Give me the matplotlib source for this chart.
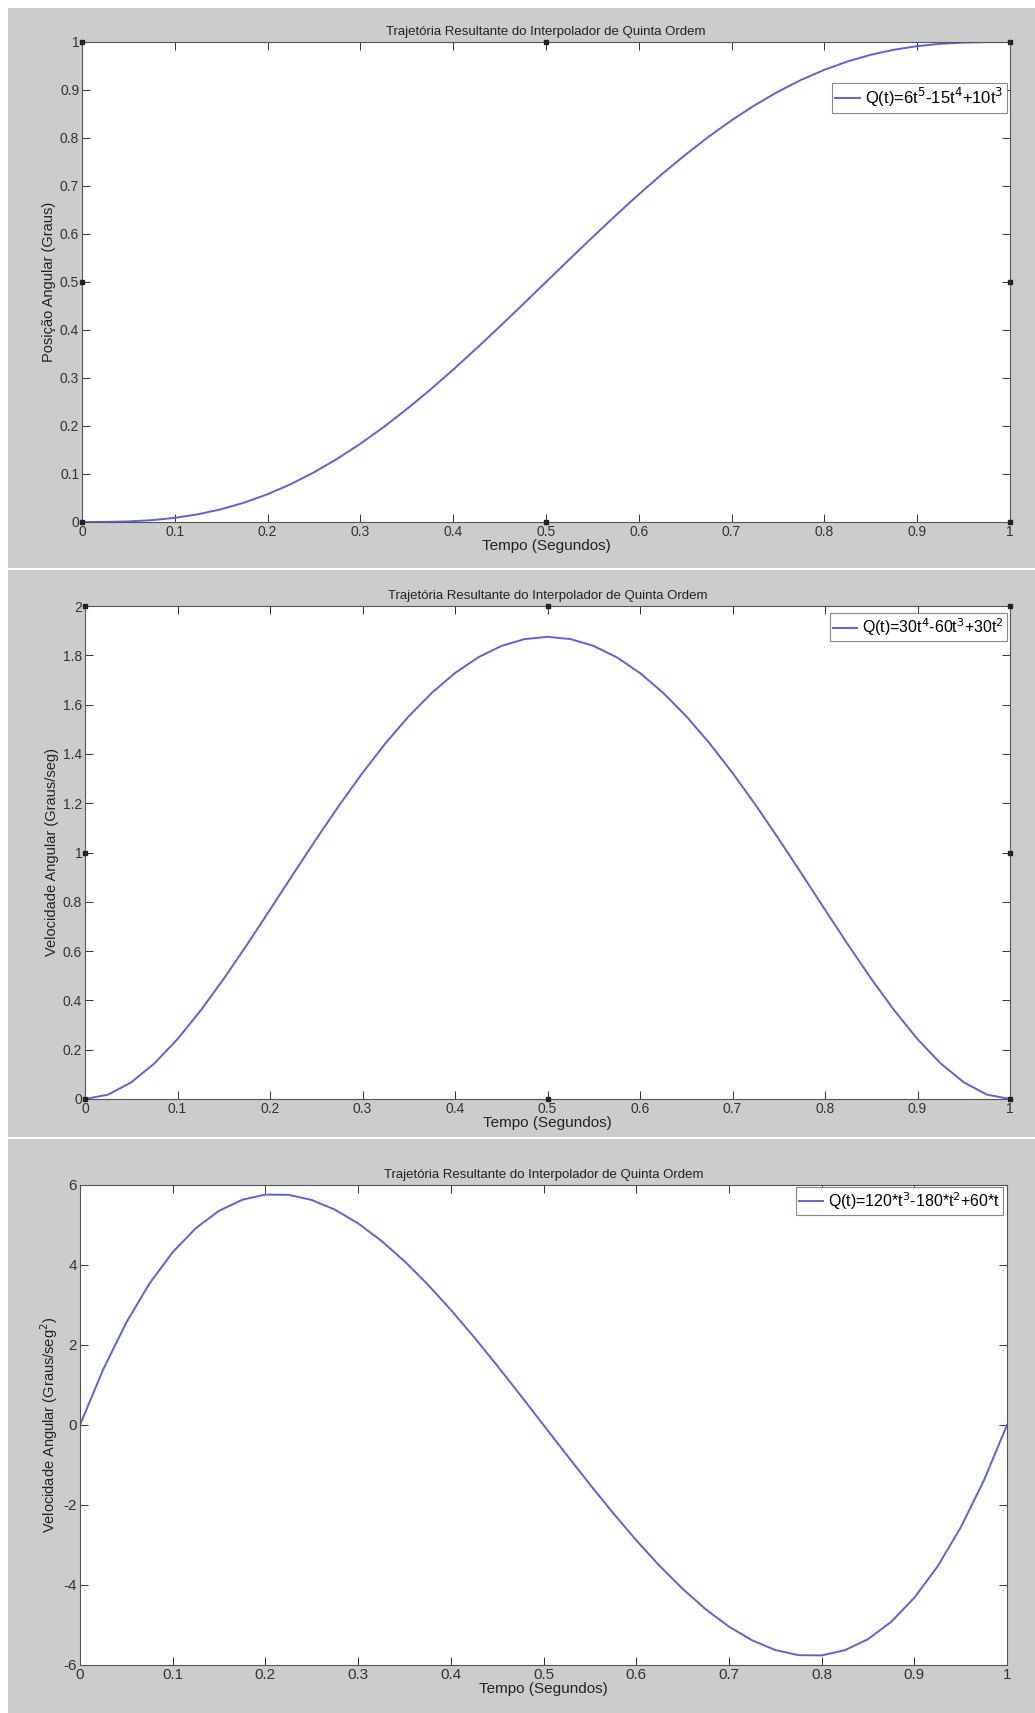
import matplotlib
matplotlib.use("Agg")
import matplotlib.pyplot as plt
from matplotlib.patches import Rectangle
from matplotlib.lines import Line2D

plt.rcParams['font.family'] = ['Liberation Sans', 'DejaVu Sans']

# valores (passo de 0.025 s)
tempo = [0.0, 0.025, 0.05, 0.075, 0.1, 0.125, 0.15, 0.175, 0.2, 0.225, 0.25,
         0.275, 0.3, 0.325, 0.35, 0.375, 0.4, 0.425, 0.45, 0.475, 0.5,
         0.525, 0.55, 0.575, 0.6, 0.625, 0.65, 0.675, 0.7, 0.725, 0.75,
         0.775, 0.8, 0.825, 0.85, 0.875, 0.9, 0.925, 0.95, 0.975, 1.0]

posicao = [0.0, 0.0002, 0.0012, 0.0038, 0.0086, 0.0161, 0.0266, 0.0405, 0.0579, 0.0789, 0.1035,
           0.1316, 0.1631, 0.1977, 0.2352, 0.2752, 0.3174, 0.3615, 0.4069, 0.4532, 0.5,
           0.5468, 0.5931, 0.6385, 0.6826, 0.7248, 0.7648, 0.8023, 0.8369, 0.8684, 0.8965,
           0.9211, 0.9421, 0.9595, 0.9734, 0.9839, 0.9914, 0.9962, 0.9988, 0.9998, 1.0]

velocidade = [0.0, 0.0178, 0.0677, 0.1444, 0.243, 0.3589, 0.4877, 0.6253, 0.768, 0.9122, 1.0547,
              1.1925, 1.323, 1.4438, 1.5527, 1.6479, 1.728, 1.7916, 1.8377, 1.8656, 1.875,
              1.8656, 1.8377, 1.7916, 1.728, 1.6479, 1.5527, 1.4438, 1.323, 1.1925, 1.0547,
              0.9122, 0.768, 0.6253, 0.4877, 0.3589, 0.243, 0.1444, 0.0677, 0.0178, 0.0]

aceleracao = [0.0, 1.389, 2.565, 3.538, 4.32, 4.922, 5.355, 5.631, 5.76, 5.754, 5.625,
              5.383, 5.04, 4.607, 4.095, 3.516, 2.88, 2.199, 1.485, 0.748, 0.0,
              -0.748, -1.485, -2.199, -2.88, -3.516, -4.095, -4.607, -5.04, -5.383, -5.625,
              -5.754, -5.76, -5.631, -5.355, -4.922, -4.32, -3.538, -2.565, -1.389, 0.0]

xticks = [0, 0.1, 0.2, 0.3, 0.4, 0.5, 0.6, 0.7, 0.8, 0.9, 1]
xlabels = ['0', '0.1', '0.2', '0.3', '0.4', '0.5', '0.6', '0.7', '0.8', '0.9', '1']
yticks1 = [0, 0.1, 0.2, 0.3, 0.4, 0.5, 0.6, 0.7, 0.8, 0.9, 1]
ylabels1 = ['0', '0.1', '0.2', '0.3', '0.4', '0.5', '0.6', '0.7', '0.8', '0.9', '1']
yticks2 = [0, 0.2, 0.4, 0.6, 0.8, 1, 1.2, 1.4, 1.6, 1.8, 2]
ylabels2 = ['0', '0.2', '0.4', '0.6', '0.8', '1', '1.2', '1.4', '1.6', '1.8', '2']
yticks3 = [-6, -4, -2, 0, 2, 4, 6]
ylabels3 = ['-6', '-4', '-2', '0', '2', '4', '6']

titulo = "Trajetória Resultante do Interpolador de Quinta Ordem"
W, H = 1035, 1713
AZUL = '#6060dc'
CINZA = '#cccccc'

fig = plt.figure(figsize=(W / 100, H / 100), dpi=100, facecolor='white')

# fundos cinza das tres capturas
for top, bot in [(8, 568), (570, 1137), (1139, 1713)]:
    fig.patches.append(Rectangle((8 / W, 1 - bot / H), 1 - 8 / W, (bot - top) / H,
                                 transform=fig.transFigure, facecolor=CINZA,
                                 edgecolor='none', zorder=-10))


def painel(px, y, yt, yl, ylim, ylabel, leg, leg_box, fs, fl, handles):
    l, r, t, b = px
    ax = fig.add_axes([l / W, 1 - b / H, (r - l) / W, (b - t) / H], zorder=2)
    ax.plot(tempo, y, color=AZUL, lw=1.4, label=leg)
    ax.set_xlim(0, 1)
    ax.set_ylim(*ylim)
    ax.set_xticks(xticks)
    ax.set_xticklabels(xlabels)
    ax.set_yticks(yt)
    ax.set_yticklabels(yl)
    ax.tick_params(direction='in', length=6, width=0.7, top=True, right=True,
                   labelsize=fs, colors='#333333', pad=2)
    for s in ax.spines.values():
        s.set_color('#555555')
        s.set_linewidth(0.8)
    ax.set_title(titulo, fontsize=9.5, color='#222222', pad=5)
    ax.set_xlabel("Tempo (Segundos)", fontsize=11, color='#222222', labelpad=0)
    ax.set_ylabel(ylabel, fontsize=10.5, color='#222222', labelpad=3)
    lg = ax.legend(loc='upper right', bbox_to_anchor=leg_box, fontsize=fl,
                   fancybox=False, edgecolor='#888888', framealpha=1,
                   handlelength=1.5, handletextpad=0.3, borderpad=0.2,
                   borderaxespad=0)
    lg.get_frame().set_linewidth(0.8)
    if handles:
        hx = [0, 0.5, 1, 1, 1, 0.5, 0, 0]
        hy = [1, 1, 1, 0.5, 0, 0, 0, 0.5]
        ax.add_line(Line2D(hx, hy, transform=ax.transAxes, ls='none', marker='s',
                           ms=3, color='#222222', clip_on=False, zorder=5))
    return ax


painel((82, 1010, 42, 522), posicao, yticks1, ylabels1, (0, 1),
       "Posição Angular (Graus)", "Q(t)=6t$^5$-15t$^4$+10t$^3$",
       (0.997, 0.915), 10, 12, True)
painel((85, 1010, 606, 1099), velocidade, yticks2, ylabels2, (0, 2),
       "Velocidade Angular (Graus/seg)", "Q(t)=30t$^4$-60t$^3$+30t$^2$",
       (0.997, 0.985), 10, 11.5, True)
painel((80, 1007, 1185, 1665), aceleracao, yticks3, ylabels3, (-6, 6),
       "Velocidade Angular (Graus/seg$^2$)", "Q(t)=120*t$^3$-180*t$^2$+60*t",
       (0.996, 0.996), 11, 11.5, False)

fig.savefig("out.png", dpi=100, facecolor=fig.get_facecolor())
